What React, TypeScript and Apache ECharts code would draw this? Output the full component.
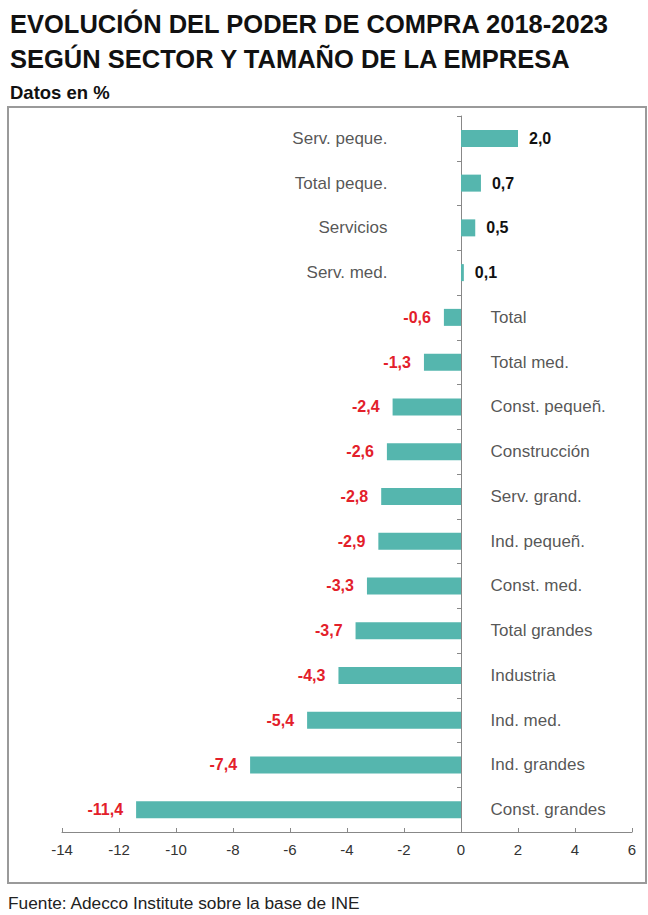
import React, { useEffect, useRef } from "react";
import * as echarts from "echarts";

const categories = [
  "Serv. peque.",
  "Total peque.",
  "Servicios",
  "Serv. med.",
  "Total",
  "Total med.",
  "Const. pequeñ.",
  "Construcción",
  "Serv. grand.",
  "Ind. pequeñ.",
  "Const. med.",
  "Total grandes",
  "Industria",
  "Ind. med.",
  "Ind. grandes",
  "Const. grandes",
];
const values = [2.0, 0.7, 0.5, 0.1, -0.6, -1.3, -2.4, -2.6, -2.8, -2.9, -3.3, -3.7, -4.3, -5.4, -7.4, -11.4];
const xTicks = { min: -14, max: 6, interval: 2 };

const titleLines = ["EVOLUCIÓN DEL PODER DE COMPRA 2018-2023", "SEGÚN SECTOR Y TAMAÑO DE LA EMPRESA"];
const subtitle = "Datos en %";
const source = "Fuente: Adecco Institute sobre la base de INE";

const FONT = "'Liberation Sans', Arial, sans-serif";

export default function App() {
  const ref = useRef<HTMLDivElement>(null);
  useEffect(() => {
    if (!ref.current) return;
    const chart = echarts.init(ref.current, undefined, { renderer: "svg" });
    const fmt = (v: number) => v.toFixed(1).replace(".", ",");
    chart.setOption({
      animation: false,
      backgroundColor: "#ffffff",
      textStyle: { fontFamily: FONT },
      title: [
        {
          text: titleLines.join("\n"),
          left: 10,
          top: 6,
          padding: 0,
          textStyle: { fontFamily: FONT, fontSize: 25.5, fontWeight: "bold", color: "#111", lineHeight: 35 },
        },
        {
          text: subtitle,
          left: 10,
          top: 82,
          padding: 0,
          textStyle: { fontFamily: FONT, fontSize: 18.5, fontWeight: "bold", color: "#111", lineHeight: 20 },
        },
        {
          text: source,
          left: 8,
          top: 893,
          padding: 0,
          textStyle: { fontFamily: FONT, fontSize: 17.3, fontWeight: "normal", color: "#222", lineHeight: 20 },
        },
      ],
      graphic: [
        {
          type: "rect",
          shape: { x: 8, y: 107, width: 638, height: 776 },
          style: { fill: "none", stroke: "#9a9a9a", lineWidth: 2 },
          silent: true,
        },
      ],
      grid: { left: 62, right: 16, top: 116, height: 716, containLabel: false },
      xAxis: {
        type: "value",
        min: xTicks.min,
        max: xTicks.max,
        interval: xTicks.interval,
        splitLine: { show: false },
        axisLine: { show: true, lineStyle: { color: "#888", width: 1 } },
        axisTick: { show: true, inside: true, length: 4, lineStyle: { color: "#888" } },
        axisLabel: { fontFamily: FONT, fontSize: 15, color: "#333", margin: 10 },
      },
      yAxis: {
        type: "category",
        data: categories,
        inverse: true,
        axisLine: { show: true, onZero: true, lineStyle: { color: "#888", width: 1 } },
        axisTick: { show: true, length: 4, lineStyle: { color: "#888" } },
        axisLabel: { show: false },
        splitLine: { show: false },
      },
      series: [
        {
          type: "bar",
          barWidth: 17,
          itemStyle: { color: "#55b6ae" },
          data: values.map((v) => ({
            value: v,
            label: {
              show: true,
              position: v >= 0 ? "right" : "left",
              distance: v >= 0 ? 11 : 13,
              formatter: () => fmt(v),
              fontFamily: FONT,
              fontSize: 16,
              fontWeight: "bold",
              color: v >= 0 ? "#111" : "#e3202a",
            },
          })),
        },
        {
          type: "scatter",
          symbolSize: 1,
          itemStyle: { color: "transparent" },
          silent: true,
          data: values.map((v, i) => ({
            value: [0, categories[i]],
            label: {
              show: true,
              position: v >= 0 ? "left" : "right",
              distance: v >= 0 ? 73 : 29,
              formatter: categories[i],
              fontFamily: FONT,
              fontSize: 17,
              color: "#2a2a2a",
            },
          })),
        },
      ],
    });
    return () => chart.dispose();
  }, []);
  return (
    <div
      ref={ref}
      style={{ position: "absolute", left: 0, top: 0, width: 648, height: 915 }}
    />
  );
}
